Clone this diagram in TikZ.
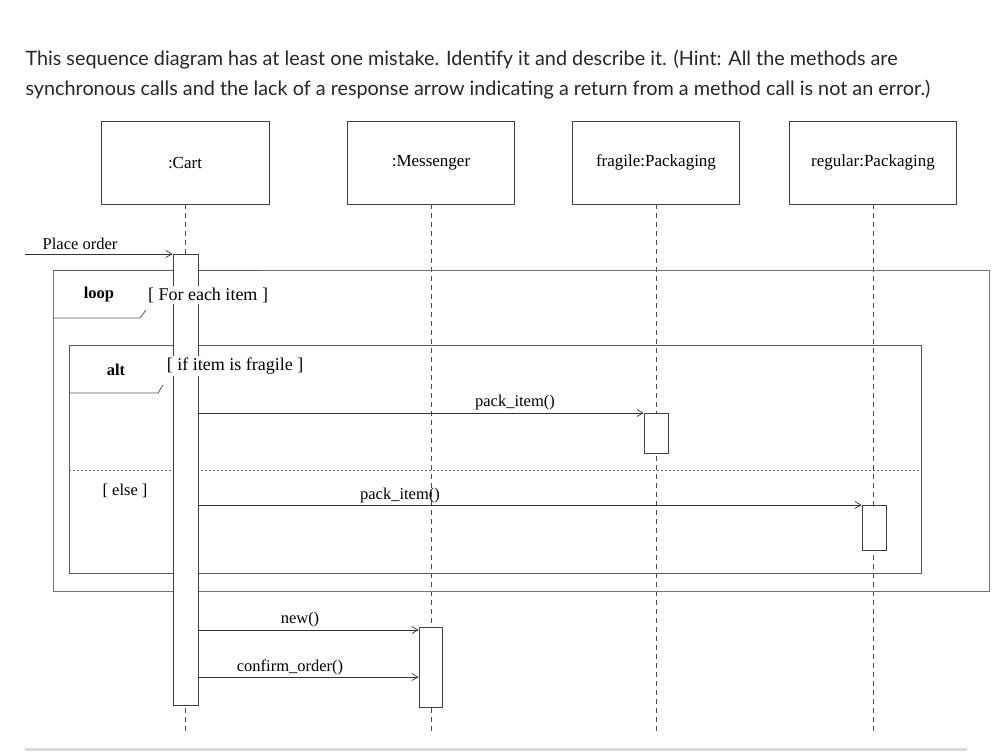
\documentclass[tikz,border=0pt]{standalone}
\usepackage{fontspec}
\setmainfont{Liberation Serif}
\newfontfamily\hdr{Lato}
\usetikzlibrary{arrows.meta}
\begin{document}
\begin{tikzpicture}[x=1pt,y=-1pt,
  box/.style={draw=black!75,line width=0.8pt},
  life/.style={draw=black!70,dash pattern=on 5pt off 4pt,line width=0.7pt},
  act/.style={draw=black!75,line width=0.8pt},
  msg/.style={draw=black!80,line width=0.7pt,-{Straight Barb[length=6pt,width=7pt]}},
  frame/.style={draw=black!65,line width=0.8pt},
  lbl/.style={font=\fontsize{16.5}{19}\selectfont,inner sep=1pt},
  glbl/.style={lbl,font=\fontsize{18}{20}\selectfont,fill=white,inner sep=2pt},
  hd/.style={lbl,font=\fontsize{17}{19}\selectfont}]
\useasboundingbox (0,0) rectangle (1006,753);
\node[anchor=west,align=left,font=\hdr\fontsize{19.8}{30}\selectfont,text=black!85] (q) at (22,75)
 {This sequence diagram has at least one mistake. Identify it and describe it. (Hint: All the methods are\\synchronous calls and the lack of a response arrow indicating a return from a method call is not an error.)};
% headers
\node[box,minimum width=168pt,minimum height=83pt,hd] (cart) at (185,162.5) {:Cart};
\node[box,minimum width=167pt,minimum height=83pt,hd] (mes) at (431,162.5) {:Messenger};
\node[box,minimum width=167pt,minimum height=83pt,hd] (fra) at (656,162.5) {fragile:Packaging};
\node[box,minimum width=167pt,minimum height=83pt,hd] (reg) at (873,162.5) {regular:Packaging};
% lifelines
\coordinate (ce) at (185,732); \coordinate (me) at (431,732);
\coordinate (fe) at (656,732); \coordinate (re) at (873,732);
\draw[life] (cart.south) -- (ce);
\draw[life] (mes.south) -- (me);
\draw[life] (fra.south) -- (fe);
\draw[life] (reg.south) -- (re);
% frames
\draw[frame,draw=black!55] (53,270) rectangle (989,591);
\draw[frame] (53,318) -- (140,318) -- (146,310);
\draw[frame] (69,345) rectangle (921,573);
\draw[frame] (69,393) -- (158,393) -- (163,385);
\draw[draw=black!60,dash pattern=on 2pt off 2pt,line width=0.7pt] (69,470) -- (921,470);
% activations
\node[act,fill=white,minimum width=25pt,minimum height=451pt,inner sep=0pt,anchor=north] (ca) at (185.5,254) {};
\draw[frame] (53,270) -- (173,270) (198,270) -- (260,270);
\draw[frame] (69,345) -- (173,345) (198,345) -- (260,345);
\node[act,fill=white,minimum width=23pt,minimum height=80pt,inner sep=0pt,anchor=north] (ma) at (430.5,627) {};
\node[act,fill=white,minimum width=24pt,minimum height=40pt,inner sep=0pt,anchor=north] (fa) at (656,413) {};
\node[act,fill=white,minimum width=24pt,minimum height=45pt,inner sep=0pt,anchor=north] (ra) at (874,505) {};
% labels
\node[lbl,font=\bfseries\fontsize{16.5}{19}\selectfont] (loop) at (99,295) {loop};
\node[glbl] (lg) at (208,295) {[ For each item ]};
\node[lbl,font=\bfseries\fontsize{16.5}{19}\selectfont] (alt) at (116,370) {alt};
\node[glbl] (ag) at (235,366) {[ if item is fragile ]};
\node[lbl] (el) at (125,491) {[ else ]};
% messages
\coordinate (po) at (25,254);
\draw[msg] (po) -- (ca.north west);
\node[lbl] at (80,244) {Place order};
\draw[msg] (ca.east |- fa.north) -- (fa.north west);
\node[lbl] at (515,403) {pack\_item()};
\draw[msg] (ca.east |- ra.north) -- (ra.north west);
\node[lbl] at (400,496) {pack\_item()};
\draw[msg] (ca.east |- 0,630) -- (ma.west |- 0,630);
\node[lbl] at (300,620) {new()};
\draw[msg] (ca.east |- 0,677) -- (ma.west |- 0,677);
\node[lbl] at (290,667) {confirm\_order()};
\draw[draw=black!15,line width=3pt] (25,749) -- (967,749);
\end{tikzpicture}
\end{document}
